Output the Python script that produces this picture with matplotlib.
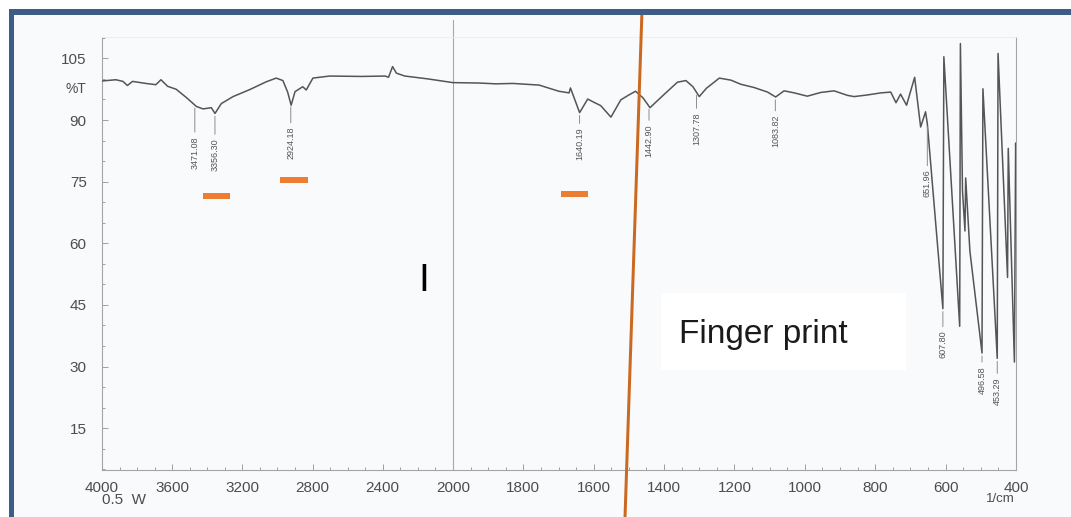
import numpy as np
import matplotlib
matplotlib.use("Agg")
import matplotlib.pyplot as plt
from matplotlib.patches import Rectangle
from matplotlib.ticker import FixedLocator, MultipleLocator

plt.rcParams['font.family'] = ['Liberation Sans', 'DejaVu Sans']

# ---------------- data ----------------
wavenumber = [4000, 3921, 3881, 3855, 3826, 3750, 3693, 3664, 3626, 3578, 3520, 3462,
              3424, 3377, 3356, 3320, 3253, 3158, 3064, 3007, 2969, 2942, 2922, 2900,
              2856, 2836, 2798, 2703, 2519, 2386, 2367, 2344, 2322, 2274, 2142, 2000,
              1925, 1878, 1830, 1755, 1699, 1670, 1666, 1640, 1617, 1599, 1580, 1551,
              1523, 1500, 1481, 1460, 1440, 1399, 1362, 1338, 1318, 1300, 1280, 1243,
              1210, 1182, 1144, 1106, 1083, 1059, 1030, 993, 955, 917, 879, 860,
              822, 784, 756, 741, 728, 711, 688, 671, 657, 651.96, 607.8, 605,
              560, 558, 552, 545, 543, 531, 496.58, 494, 453.29, 451, 424, 422,
              404.5, 401, 400]
transmittance = [99.5, 99.8, 99.4, 98.4, 99.4, 98.9, 98.6, 99.8, 98.2, 97.5, 95.5, 93.3,
                 92.7, 93.0, 91.6, 94.0, 95.7, 97.4, 99.3, 100.2, 99.6, 96.8, 93.6, 96.9,
                 98.1, 97.3, 100.2, 100.7, 100.6, 100.7, 100.4, 103.0, 101.4, 100.7, 100.0, 99.1,
                 99.0, 98.8, 98.9, 98.5, 97.0, 96.6, 97.8, 91.8, 95.1, 94.3, 93.5, 90.7,
                 94.9, 96.1, 97.0, 95.4, 93.0, 96.3, 99.2, 99.6, 98.1, 95.7, 97.7, 100.2,
                 99.7, 98.7, 97.9, 96.8, 95.6, 97.1, 96.6, 95.8, 96.7, 97.1, 96.0, 95.7,
                 96.1, 96.6, 96.8, 94.2, 96.3, 93.6, 100.4, 88.3, 92.0, 89.1, 44.1, 105.4,
                 39.8, 108.6, 72.7, 63.0, 75.9, 58.1, 33.3, 97.6, 32.0, 106.2, 51.7, 83.1,
                 31.1, 84.4, 80.0]

x_major_ticks = [4000, 3600, 3200, 2800, 2400, 2000, 1800, 1600, 1400, 1200, 1000, 800, 600, 400]
y_major_ticks = [15, 30, 45, 60, 75, 90, 105]

peak_labels = ["3471.08", "3356.30", "2924.18", "1640.19", "1442.90", "1307.78",
               "1083.82", "651.96", "607.80", "496.58", "453.29"]
peak_wavenumbers = [3471.08, 3356.30, 2924.18, 1640.19, 1442.90, 1307.78,
                    1083.82, 651.96, 607.80, 496.58, 453.29]

# orange highlight bars (wavenumber range and %T level) and fingerprint divider
highlight_ranges = [(3422, 3269), (2986, 2826), (1693, 1615)]
highlight_levels = [71.4, 75.3, 71.9]
divider_wn = [1463, 1511]
divider_T = [116.0, -6.6]

# ---------------- layout ----------------
W, H, DPI = 1071, 517, 100
PT = 72.0 / DPI
label_drop_px = [31, 25, 23, 15, 18, 20, 18, 46, 22, 13, 19]


def fx(x):
    return x / W


def fy(y):
    return 1 - y / H


fig = plt.figure(figsize=(W / DPI, H / DPI), dpi=DPI, facecolor='#F9FAFB')

# slide margins (white) and dark-blue slide frame
for r in [Rectangle((0, fy(9.3)), 1, 9.3 / H),
          Rectangle((0, 0), 8.6 / W, 1)]:
    r.set_transform(fig.transFigure); r.set_facecolor('white'); r.set_edgecolor('none'); r.set_zorder(4)
    fig.add_artist(r)
for r in [Rectangle((fx(8.6), fy(14.5)), 1 - 8.6 / W, 5.2 / H),
          Rectangle((fx(8.6), 0), 5.2 / W, fy(9.3))]:
    r.set_transform(fig.transFigure); r.set_facecolor('#3E5D86'); r.set_edgecolor('none'); r.set_zorder(5)
    fig.add_artist(r)

# white box behind the "Finger print" text
box = Rectangle((fx(661), fy(370)), 245 / W, 77 / H, transform=fig.transFigure,
                facecolor='white', edgecolor='none', zorder=0.5)
fig.add_artist(box)

ax = fig.add_axes([fx(102), fy(469.5), 914 / W, 432.5 / H])
ax.set_facecolor('none')
ax.set_zorder(1)


def fwd(w):
    w = np.asarray(w, dtype=float)
    return np.where(w <= 2000, 0.352 * w, 704 + 0.1755 * (w - 2000))


def inv(p):
    p = np.asarray(p, dtype=float)
    return np.where(p <= 704, p / 0.352, 2000 + (p - 704) / 0.1755)


ax.set_xscale('function', functions=(fwd, inv))
ax.set_xlim(4000, 400)
ax.set_ylim(4.96, 110.2)

# spectrum
ax.plot(wavenumber, transmittance, color='#555555', lw=1.1, solid_joinstyle='round', zorder=3)

# gridline at 2000
ax.axvline(2000, ymin=0, ymax=1.04, color='#a8a8a8', lw=0.8, clip_on=False, zorder=2)

# peak labels
wn_arr = np.array(wavenumber)
t_arr = np.array(transmittance)
order = np.argsort(wn_arr)
for lab, w, drop in zip(peak_labels, peak_wavenumbers, label_drop_px):
    t = np.interp(w, wn_arr[order], t_arr[order])
    ax.annotate('', xy=(w, t), xytext=(0, -(drop - 4) * PT), textcoords='offset points',
                arrowprops=dict(arrowstyle='-', color='#8c8c8c', lw=0.7,
                                shrinkA=0, shrinkB=3 * PT))
    ax.annotate(lab, xy=(w, t), xytext=(0, -drop * PT), textcoords='offset points',
                rotation=90, ha='center', va='top', fontsize=6.5, color='#555555')

# orange highlight bars
for (a, b), lvl in zip(highlight_ranges, highlight_levels):
    ax.plot([a, b], [lvl, lvl], color='#ED7D31', lw=6 * PT, solid_capstyle='butt', zorder=4)

# fingerprint divider line
ax.plot(divider_wn, divider_T, color='#CB6920', lw=3 * PT, clip_on=False, zorder=6)

# ticks
ax.xaxis.set_major_locator(FixedLocator(x_major_ticks))
ax.set_xticklabels([str(v) for v in x_major_ticks])
minor_x = list(range(3900, 2000, -100)) + list(range(1950, 400, -50))
ax.xaxis.set_minor_locator(FixedLocator(minor_x))
ax.set_yticks(y_major_ticks)
ax.set_yticklabels([str(v) for v in y_major_ticks])
ax.yaxis.set_minor_locator(MultipleLocator(5))

ax.tick_params(axis='both', which='both', direction='in', color='#a0a0a0', width=0.7)
ax.tick_params(axis='x', which='major', length=4, pad=8, labelsize=11, labelcolor='#4d4d4d')
ax.tick_params(axis='x', which='minor', length=2.5)
ax.tick_params(axis='y', which='major', length=4, pad=11, labelsize=11, labelcolor='#4d4d4d')
ax.tick_params(axis='y', which='minor', length=2.5)

for s in ['left', 'right', 'bottom']:
    ax.spines[s].set_color('#a5a5a5')
    ax.spines[s].set_linewidth(0.8)
ax.spines['top'].set_color('#ececec')
ax.spines['top'].set_linewidth(0.6)

# axis annotations
ax.annotate('%T', xy=(0, 97.6), xycoords=('axes fraction', 'data'), xytext=(-11, 0),
            textcoords='offset points', ha='right', va='center', fontsize=10, color='#4d4d4d')
ax.annotate('0.5  W', xy=(0, 0), xycoords='axes fraction', xytext=(22 * PT, -31 * PT),
            textcoords='offset points', ha='center', va='center', fontsize=11, color='#4d4d4d')
ax.annotate('1/cm', xy=(1, 0), xycoords='axes fraction', xytext=(-15.5 * PT, -29 * PT),
            textcoords='offset points', ha='center', va='center', fontsize=9.5, color='#4d4d4d')

# slide overlays
fig.text(fx(424), fy(291), 'I', ha='center', va='baseline', fontsize=28, color='black', zorder=3)
fig.text(fx(763.5), fy(343.3), 'Finger print', ha='center', va='baseline', fontsize=24,
         color='#1a1a1a', zorder=3)

fig.savefig('out.png', dpi=DPI, facecolor=fig.get_facecolor())
